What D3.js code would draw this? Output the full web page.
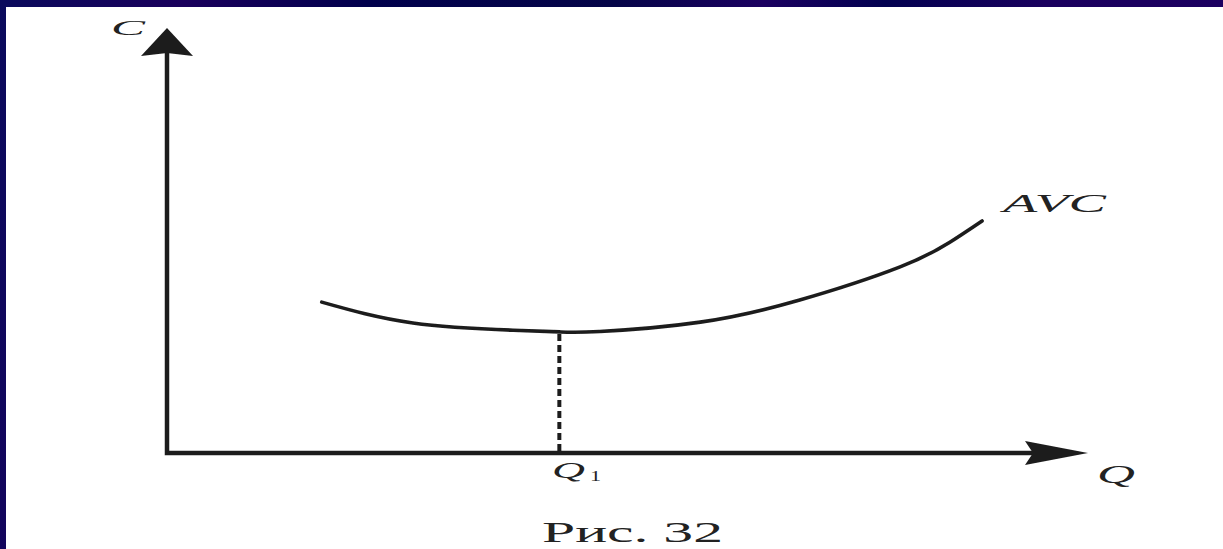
<!DOCTYPE html>
<html>
<head>
<meta charset="utf-8">
<script src="https://cdn.jsdelivr.net/npm/d3@7"></script>
<style>
  html, body { margin: 0; padding: 0; background: #fff; }
  svg { display: block; }
</style>
</head>
<body>
<script>
// Average variable cost curve: output Q (x) against cost C (y), arbitrary units
const avcQ = [16.8, 26.7, 37.6, 42.6, 47.0, 57.9, 68.7, 79.6, 85.0, 88.5];
const avcC = [35.5, 30.6, 28.9, 28.5, 28.6, 30.8, 36.0, 43.8, 49.6, 54.6];
const q1 = 42.6;          // output at the AVC minimum
const axisLabels = ["C", "Q"];
const curveLabel = "AVC";
const caption = "Рис. 32";

const W = 1223, H = 549;
const svg = d3.select("body").append("svg").attr("width", W).attr("height", H);
const defs = svg.append("defs");

// slide frame: dark navy band with faint diagonal streaks
const grad = defs.append("linearGradient").attr("id", "frame")
  .attr("x1", "0").attr("y1", "0").attr("x2", "1").attr("y2", "0.08");
[["0", "#0a0a5c"], ["0.15", "#1a005c"], ["0.3", "#00004c"], ["0.5", "#050548"],
 ["0.62", "#1b0060"], ["0.72", "#020150"], ["0.85", "#1a005e"], ["1", "#1c0060"]]
  .forEach(([o, c]) => grad.append("stop").attr("offset", o).attr("stop-color", c));
defs.append("filter").attr("id", "soft")
  .append("feGaussianBlur").attr("stdDeviation", 0.6);

svg.append("rect").attr("width", W).attr("height", H).attr("fill", "url(#frame)");
svg.append("rect").attr("x", 6).attr("y", 7).attr("width", W - 6).attr("height", H - 7).attr("fill", "#fff");

const x = d3.scaleLinear().domain([0, 100]).range([167, 1088]);
const y = d3.scaleLinear().domain([0, 100]).range([453, 28]);

const g = svg.append("g").attr("filter", "url(#soft)");
const ink = "#1c1c1c";

// axes
g.append("path")
  .attr("d", `M${x(0)},${y(100) + 20}V${y(0)}H${x(100) - 30}`)
  .attr("fill", "none").attr("stroke", ink).attr("stroke-width", 4.5)
  .attr("stroke-linejoin", "miter");
// arrowheads
g.append("path")
  .attr("d", `M${x(0)},${y(100)}L${x(0) + 26},${y(100) + 28}L${x(0)},${y(100) + 25}L${x(0) - 26},${y(100) + 28}Z`)
  .attr("fill", ink);
g.append("path")
  .attr("d", `M${x(100)},${y(0)}L${x(100) - 63},${y(0) + 12}L${x(100) - 55},${y(0)}L${x(100) - 63},${y(0) - 12}Z`)
  .attr("fill", ink);

// dashed drop line from the minimum to the Q axis
g.append("line")
  .attr("x1", x(q1)).attr("x2", x(q1))
  .attr("y1", y(d3.min(avcC)) + 2).attr("y2", y(0))
  .attr("stroke", ink).attr("stroke-width", 4).attr("stroke-dasharray", "7,4");

// AVC curve
const line = d3.line()
  .x((d, i) => x(avcQ[i]))
  .y(d => y(d))
  .curve(d3.curveNatural);
g.append("path").datum(avcC)
  .attr("d", line)
  .attr("fill", "none").attr("stroke", ink).attr("stroke-width", 3.6).attr("stroke-linecap", "round");

// labels
const lab = svg.append("g").attr("fill", "#222").attr("font-family", "'Liberation Serif', 'DejaVu Serif', serif");
lab.append("text").attr("x", 111).attr("y", 35).attr("font-size", 22).attr("font-style", "italic")
  .attr("textLength", 34).attr("lengthAdjust", "spacingAndGlyphs").text(axisLabels[0]);
lab.append("text").attr("x", 1097).attr("y", 483).attr("font-size", 25).attr("font-style", "italic")
  .attr("textLength", 38).attr("lengthAdjust", "spacingAndGlyphs").text(axisLabels[1]);
lab.append("text").attr("x", 1003).attr("y", 212).attr("font-size", 25).attr("font-style", "italic")
  .attr("textLength", 103).attr("lengthAdjust", "spacingAndGlyphs").text(curveLabel);

// Q with subscript 1 under the drop line
lab.append("text").attr("x", 552).attr("y", 478).attr("font-size", 24).attr("font-style", "italic")
  .attr("textLength", 33).attr("lengthAdjust", "spacingAndGlyphs").text("Q");
lab.append("text").attr("x", 590).attr("y", 481).attr("font-size", 14)
  .attr("textLength", 11).attr("lengthAdjust", "spacingAndGlyphs").text("1");

lab.append("text").attr("x", 542).attr("y", 542).attr("font-size", 30)
  .attr("textLength", 181).attr("lengthAdjust", "spacingAndGlyphs").text(caption);
</script>
</body>
</html>
